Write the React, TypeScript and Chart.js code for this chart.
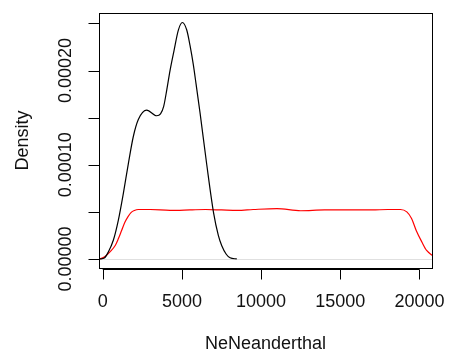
import React, { useEffect, useRef } from "react";
import { Chart, registerables } from "chart.js";

Chart.register(...registerables);

// Black density (NeNeanderthal posterior)
const blackX = [-170, 100, 354, 670, 985, 1301, 1617, 1933, 2249, 2780, 3411, 3650, 3850, 4050, 4250, 4500, 4776, 5030, 5306, 5509, 5723, 5900, 6146, 6570, 7000, 7300, 7517, 7800, 8042, 8465];
const blackY = [0, 0.000001, 0.0000074, 0.0000198, 0.000041, 0.0000694, 0.000101, 0.00013, 0.000148, 0.000158, 0.000152, 0.000154, 0.000162, 0.00018, 0.0002, 0.000221, 0.000243, 0.000251, 0.000243, 0.000227, 0.000206, 0.000185, 0.000155, 0.0001, 0.000049, 0.000025, 0.000014, 0.000005, 0.0000012, 0];

// Red density (prior)
const redX = [-170, 100, 460, 800, 1000, 1200, 1400, 1600, 1800, 2000, 2250, 3000, 4250, 5500, 6500, 7500, 8500, 9500, 11000, 12500, 14000, 15500, 17000, 18000, 18800, 19200, 19500, 19800, 20150, 20450, 20800, 21100];
const redY = [0, 0.000002, 0.0000075, 0.0000145, 0.000022, 0.0000305, 0.000039, 0.000045, 0.0000495, 0.0000515, 0.0000525, 0.0000525, 0.0000515, 0.000052, 0.0000525, 0.000052, 0.0000515, 0.0000525, 0.0000535, 0.0000512, 0.000052, 0.000052, 0.000052, 0.0000525, 0.0000525, 0.00005, 0.000043, 0.00003, 0.000018, 0.000009, 0.000004, 0.000001];

const xTicks = [0, 5000, 10000, 15000, 20000];
const xTickLabels = ["0", "5000", "10000", "15000", "20000"];
const yTicks = [0, 0.00005, 0.0001, 0.00015, 0.0002, 0.00025];
const yTickLabels = ["0.00000", "", "0.00010", "", "0.00020", ""];
const xTitle = "NeNeanderthal";
const yTitle = "Density";

const FONT = '18px "Liberation Sans", Arial, sans-serif';

const axesPlugin = {
  id: "rAxes",
  beforeDatasetsDraw(chart: any) {
    const { ctx, chartArea, scales } = chart;
    const y0 = Math.round(scales.y.getPixelForValue(0)) + 0.5;
    ctx.save();
    ctx.strokeStyle = "#e0e0e0";
    ctx.lineWidth = 1;
    ctx.beginPath();
    ctx.moveTo(chartArea.left, y0);
    ctx.lineTo(chartArea.right, y0);
    ctx.stroke();
    ctx.restore();
  },
  afterDraw(chart: any) {
    const { ctx, chartArea, scales } = chart;
    const { left, right, top, bottom } = chartArea;
    ctx.save();
    ctx.strokeStyle = "#000";
    ctx.lineWidth = 1;
    ctx.strokeRect(left + 0.5, top + 0.5, right - left, bottom - top);

    // x axis
    const xa = bottom + 1.5;
    ctx.beginPath();
    ctx.moveTo(scales.x.getPixelForValue(xTicks[0]), xa);
    ctx.lineTo(scales.x.getPixelForValue(xTicks[xTicks.length - 1]), xa);
    xTicks.forEach((t) => {
      const px = Math.round(scales.x.getPixelForValue(t)) + 0.5;
      ctx.moveTo(px, xa);
      ctx.lineTo(px, xa + 10);
    });
    ctx.stroke();
    ctx.fillStyle = "#111";
    ctx.font = FONT;
    ctx.textAlign = "center";
    ctx.textBaseline = "middle";
    xTicks.forEach((t, i) => {
      ctx.fillText(xTickLabels[i], scales.x.getPixelForValue(t), 302);
    });
    ctx.fillText(xTitle, (left + right) / 2, 344);

    // y axis
    const ya = left + 0.5;
    ctx.beginPath();
    ctx.moveTo(ya, scales.y.getPixelForValue(yTicks[0]));
    ctx.lineTo(ya, scales.y.getPixelForValue(yTicks[yTicks.length - 1]));
    yTicks.forEach((t) => {
      const py = Math.round(scales.y.getPixelForValue(t)) + 0.5;
      ctx.moveTo(ya, py);
      ctx.lineTo(ya - 11, py);
    });
    ctx.stroke();
    yTicks.forEach((t, i) => {
      if (!yTickLabels[i]) return;
      ctx.save();
      ctx.translate(66, scales.y.getPixelForValue(t));
      ctx.rotate(-Math.PI / 2);
      ctx.fillText(yTickLabels[i], 0, 0);
      ctx.restore();
    });
    ctx.save();
    ctx.translate(23, (top + bottom) / 2);
    ctx.rotate(-Math.PI / 2);
    ctx.fillText(yTitle, 0, 0);
    ctx.restore();
    ctx.restore();
  },
};

export default function App() {
  const ref = useRef<HTMLCanvasElement | null>(null);
  useEffect(() => {
    if (!ref.current) return;
    const chart = new Chart(ref.current, {
      type: "line",
      data: {
        datasets: [
          {
            data: blackX.map((x, i) => ({ x, y: blackY[i] })),
            borderColor: "#000000",
            borderWidth: 1.2,
            pointRadius: 0,
            cubicInterpolationMode: "monotone",
            fill: false,
          },
          {
            data: redX.map((x, i) => ({ x, y: redY[i] })),
            borderColor: "#ff0000",
            borderWidth: 1.2,
            pointRadius: 0,
            cubicInterpolationMode: "monotone",
            fill: false,
          },
        ],
      },
      options: {
        responsive: false,
        animation: false,
        events: [],
        layout: { padding: { left: 99, right: 17, top: 13, bottom: 90 } },
        plugins: { legend: { display: false }, tooltip: { enabled: false } },
        scales: {
          x: { type: "linear", min: -234, max: 20790, display: false },
          y: { type: "linear", min: -0.0000096, max: 0.0002611, display: false },
        },
      },
      plugins: [axesPlugin],
    });
    return () => chart.destroy();
  }, []);
  return (
    <div style={{ position: "absolute", left: 0, top: 0, width: 449, height: 358, background: "#fff" }}>
      <canvas ref={ref} width={449} height={358} />
    </div>
  );
}
